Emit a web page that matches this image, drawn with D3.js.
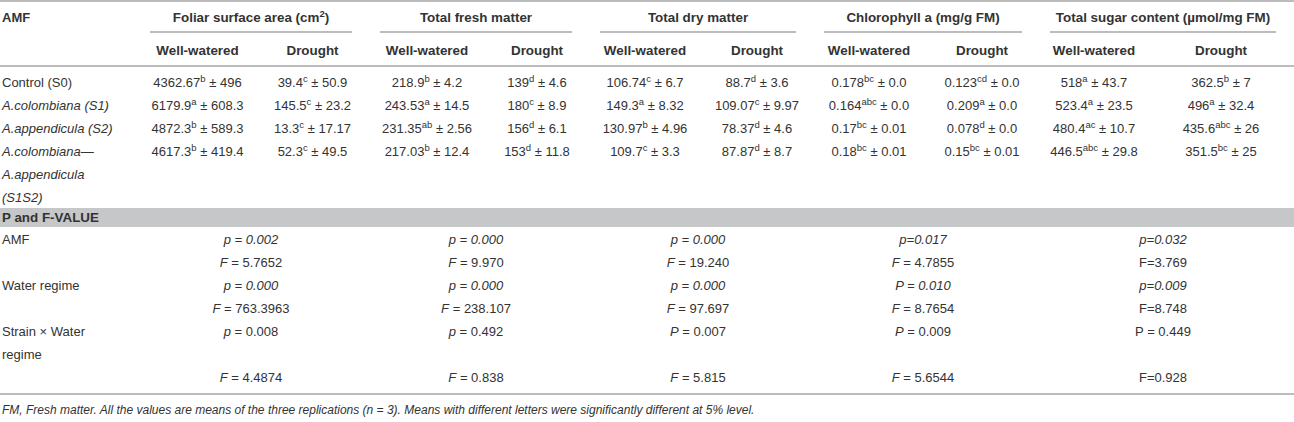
<!DOCTYPE html>
<html>
<head>
<meta charset="utf-8">
<script src="https://cdn.jsdelivr.net/npm/d3@7"></script>
<style>
body { margin: 0; background: #fff; }
text { font-family: "Liberation Sans", Arial, sans-serif; fill: #333; }
</style>
</head>
<body>
<div id="main"></div>
<script>
// table content
const traits = ["Foliar surface area (cm^2)", "Total fresh matter", "Total dry matter",
                "Chlorophyll a (mg/g FM)", "Total sugar content (\u00b5mol/mg FM)"];
const regimes = ["Well-watered", "Drought"];
const strainLines = [["Control (S0)"], ["A.colombiana (S1)"], ["A.appendicula (S2)"],
                     ["A.colombiana\u2014", "A.appendicula", "(S1S2)"]];
const strainItalic = [false, true, true, true];

// each row: [mean, letter, sd] for well-watered then drought
const foliarArea = [
    ["4362.67", "b", "496", "39.4", "c", "50.9"],
    ["6179.9", "a", "608.3", "145.5", "c", "23.2"],
    ["4872.3", "b", "589.3", "13.3", "c", "17.17"],
    ["4617.3", "b", "419.4", "52.3", "c", "49.5"]
];
const freshMatter = [
    ["218.9", "b", "4.2", "139", "d", "4.6"],
    ["243.53", "a", "14.5", "180", "c", "8.9"],
    ["231.35", "ab", "2.56", "156", "d", "6.1"],
    ["217.03", "b", "12.4", "153", "d", "11.8"]
];
const dryMatter = [
    ["106.74", "c", "6.7", "88.7", "d", "3.6"],
    ["149.3", "a", "8.32", "109.07", "c", "9.97"],
    ["130.97", "b", "4.96", "78.37", "d", "4.6"],
    ["109.7", "c", "3.3", "87.87", "d", "8.7"]
];
const chlorophyllA = [
    ["0.178", "bc", "0.0", "0.123", "cd", "0.0"],
    ["0.164", "abc", "0.0", "0.209", "a", "0.0"],
    ["0.17", "bc", "0.01", "0.078", "d", "0.0"],
    ["0.18", "bc", "0.01", "0.15", "bc", "0.01"]
];
const sugarContent = [
    ["518", "a", "43.7", "362.5", "b", "7"],
    ["523.4", "a", "23.5", "496", "a", "32.4"],
    ["480.4", "ac", "10.7", "435.6", "abc", "26"],
    ["446.5", "abc", "29.8", "351.5", "bc", "25"]
];
const traitValues = [foliarArea, freshMatter, dryMatter, chlorophyllA, sugarContent];

// ANOVA block; text between * is italic
const effectLines = [["AMF"], ["Water regime"], ["Strain \u00d7 Water", "regime"]];
const pValues = [
    ["*p = 0.002*", "*p = 0.000*", "*p = 0.000*", "*p=0.017*", "*p=0.032*"],
    ["*p = 0.000*", "*p = 0.000*", "*p = 0.000*", "*P = 0.010*", "*p=0.009*"],
    ["*p* = 0.008", "*p* = 0.492", "*P* = 0.007", "*P* = 0.009", "P = 0.449"]
];
const fValues = [
    ["*F* = 5.7652", "*F* = 9.970", "*F* = 19.240", "*F* = 4.7855", "F=3.769"],
    ["*F* = 763.3963", "*F* = 238.107", "*F* = 97.697", "*F* = 8.7654", "F=8.748"],
    ["*F* = 4.4874", "*F* = 0.838", "*F* = 5.815", "*F* = 5.6544", "F=0.928"]
];
const footnote = "FM, Fresh matter. All the values are means of the three replications (n = 3). Means with different letters were significantly different at 5% level.";

const cte = {
    w: 1294,
    h: 422,
    colWidths: [140, 115, 115, 114, 106, 110, 114, 110, 116, 108, 146],
    rowH: 23,
    fs: 13,
    supFs: 9.5,
    lineColor: "#bcbcbc",
    bandColor: "#c6c7c8"
};

const edges = [0, ...d3.cumsum(cte.colWidths)];
const colCenter = i => (edges[i] + edges[i + 1]) / 2;
const groupLeft = g => edges[1 + g * 2] + 10;
const groupRight = g => edges[3 + g * 2] - 18;

// line scales for the two body blocks
const yTop = d3.scaleLinear().domain([0, 1]).range([82, 82 + cte.rowH]);
const yStats = d3.scaleLinear().domain([0, 1]).range([239, 239 + cte.rowH]);
const base = y => y + 4.5;

const svg = d3.select("#main").append("svg")
    .attr("width", cte.w)
    .attr("height", cte.h);

function hline(y, x0, x1) {
    svg.append("line")
        .attr("x1", x0).attr("x2", x1)
        .attr("y1", y).attr("y2", y)
        .attr("stroke", cte.lineColor)
        .attr("stroke-width", 2);
}

function markup(textSel, str) {
    str.split("*").forEach((part, i) => {
        if (part === "") return;
        textSel.append("tspan")
            .style("font-style", i % 2 ? "italic" : "normal")
            .text(part);
    });
}

function withSup(textSel, str) {
    const parts = str.split(/\^(\w)/);
    textSel.append("tspan").text(parts[0]);
    if (parts.length > 1) {
        textSel.append("tspan").attr("dy", -5).attr("font-size", cte.supFs).text(parts[1]);
        textSel.append("tspan").attr("dy", 5).text(parts[2]);
    }
}

// rules
hline(1, 0, cte.w);
hline(66, 0, cte.w);
hline(394, 0, cte.w);
svg.append("rect")
    .attr("x", 0).attr("y", 208)
    .attr("width", cte.w).attr("height", 19)
    .attr("fill", cte.bandColor);

// header
svg.append("text")
    .attr("x", 2).attr("y", base(17))
    .attr("font-size", cte.fs).attr("font-weight", "bold")
    .text("AMF");

traits.forEach((t, g) => {
    const x0 = groupLeft(g), x1 = groupRight(g);
    const txt = svg.append("text")
        .attr("x", (x0 + x1) / 2).attr("y", base(17))
        .attr("text-anchor", "middle")
        .attr("font-size", 13.4).attr("font-weight", "bold");
    withSup(txt, t);
    hline(32, x0, x1);
    regimes.forEach((r, k) => {
        svg.append("text")
            .attr("x", colCenter(1 + g * 2 + k)).attr("y", base(50))
            .attr("text-anchor", "middle")
            .attr("font-size", 13.4).attr("font-weight", "bold")
            .text(r);
    });
});

// strain rows
strainLines.forEach((lines, i) => {
    lines.forEach((l, j) => {
        svg.append("text")
            .attr("x", 2).attr("y", base(yTop(i + j)))
            .attr("font-size", cte.fs)
            .style("font-style", strainItalic[i] ? "italic" : "normal")
            .text(l);
    });
    traitValues.forEach((vals, g) => {
        const row = vals[i];
        [0, 1].forEach(k => {
            const t = svg.append("text")
                .attr("x", colCenter(1 + g * 2 + k)).attr("y", base(yTop(i)))
                .attr("text-anchor", "middle")
                .attr("font-size", cte.fs);
            t.append("tspan").text(row[k * 3]);
            t.append("tspan").attr("dy", -5).attr("font-size", cte.supFs).text(row[k * 3 + 1]);
            t.append("tspan").attr("dy", 5).text(" \u00b1 " + row[k * 3 + 2]);
        });
    });
});

// P and F band
svg.append("text")
    .attr("x", 2).attr("y", base(217.5))
    .attr("font-size", 13.4).attr("font-weight", "bold")
    .text("P and F-VALUE");

let line = 0;
effectLines.forEach((lines, e) => {
    lines.forEach((l, j) => {
        svg.append("text")
            .attr("x", 2).attr("y", base(yStats(line + j)))
            .attr("font-size", cte.fs)
            .text(l);
    });
    const fLine = line + lines.length;
    traits.forEach((t, g) => {
        const cx = (groupLeft(g) + groupRight(g)) / 2;
        markup(svg.append("text")
            .attr("x", cx).attr("y", base(yStats(line)))
            .attr("text-anchor", "middle")
            .attr("font-size", cte.fs), pValues[e][g]);
        markup(svg.append("text")
            .attr("x", cx).attr("y", base(yStats(fLine)))
            .attr("text-anchor", "middle")
            .attr("font-size", cte.fs), fValues[e][g]);
    });
    line = fLine + 1;
});

svg.append("text")
    .attr("x", 2).attr("y", base(409))
    .attr("font-size", 12)
    .style("font-style", "italic")
    .text(footnote);
</script>
</body>
</html>
